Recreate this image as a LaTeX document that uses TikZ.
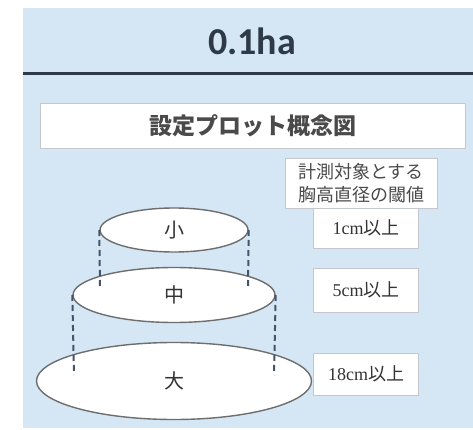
\documentclass[tikz,border=0pt]{standalone}
\usepackage{fontspec}
\usetikzlibrary{shapes.geometric}
\newfontfamily\jpfont{Noto Sans CJK JP}
\newfontfamily\titlefont{Carlito}
\newfontfamily\serfont{Liberation Serif}
\definecolor{panelbg}{HTML}{D5E7F4}
\definecolor{titleline}{HTML}{2E3A48}
\definecolor{txt}{HTML}{333333}
\definecolor{graytxt}{HTML}{4A4A4A}
\definecolor{ellline}{HTML}{6E6E6E}
\definecolor{dashcol}{HTML}{44546A}
\definecolor{boxline}{HTML}{C4C8CC}
\tikzset{
  wbox/.style={draw=boxline, line width=0.8pt, fill=white, inner sep=0pt, text=txt},
  ell/.style={ellipse, draw=ellline, line width=1.4pt, fill=white, inner sep=0pt, text=txt,
    font=\jpfont\fontsize{20}{24}\selectfont},
  vdash/.style={draw=dashcol, line width=2pt, dash pattern=on 6pt off 4pt},
  thr/.style={wbox, minimum width=105pt, font=\fontsize{18}{21}\selectfont}
}
\begin{document}
\begin{tikzpicture}[x=1pt,y=-1pt]
\useasboundingbox (0,0) rectangle (473,430);
\fill[panelbg] (23,8) rectangle (473,428);
\draw[titleline, line width=3pt] (23,74) -- (473,74);
\node[text=titleline, font=\titlefont\bfseries\fontsize{38}{44}\selectfont] (title) at (252,41) {0.1ha};
\node[wbox, text=graytxt, minimum width=425pt, minimum height=45pt, font=\jpfont\bfseries\fontsize{23}{26}\selectfont] (concept) at (252.5,125.5) {設定プロット概念図};
\node[wbox, text=graytxt, minimum width=152pt, minimum height=50pt, align=center, font=\jpfont\fontsize{18}{23}\selectfont] (hdr) at (361,183) {計測対象とする\\胸高直径の閾値};
\node[thr, minimum height=40pt] (c1) at (366,228) {\serfont 1cm\jpfont 以上};
\node[thr, minimum height=44pt] (c5) at (366,290) {\serfont 5cm\jpfont 以上};
\node[thr, minimum height=42pt] (c18) at (366,374) {\serfont 18cm\jpfont 以上};
\node[ell, minimum width=275pt, minimum height=77pt] (large) at (174,381) {大};
\node[ell, minimum width=202pt, minimum height=55pt] (medium) at (174,295) {中};
\node[ell, minimum width=148pt, minimum height=44pt] (small) at (174,230) {小};
\coordinate (sL) at (100,287);
\coordinate (sR) at (248,287);
\coordinate (mL) at (74,375);
\coordinate (mR) at (274,375);
\draw[vdash] (small.west) -- (sL);
\draw[vdash] (small.east) -- (sR);
\draw[vdash] (medium.west) -- (mL);
\draw[vdash] (medium.east) -- (mR);
\end{tikzpicture}
\end{document}
